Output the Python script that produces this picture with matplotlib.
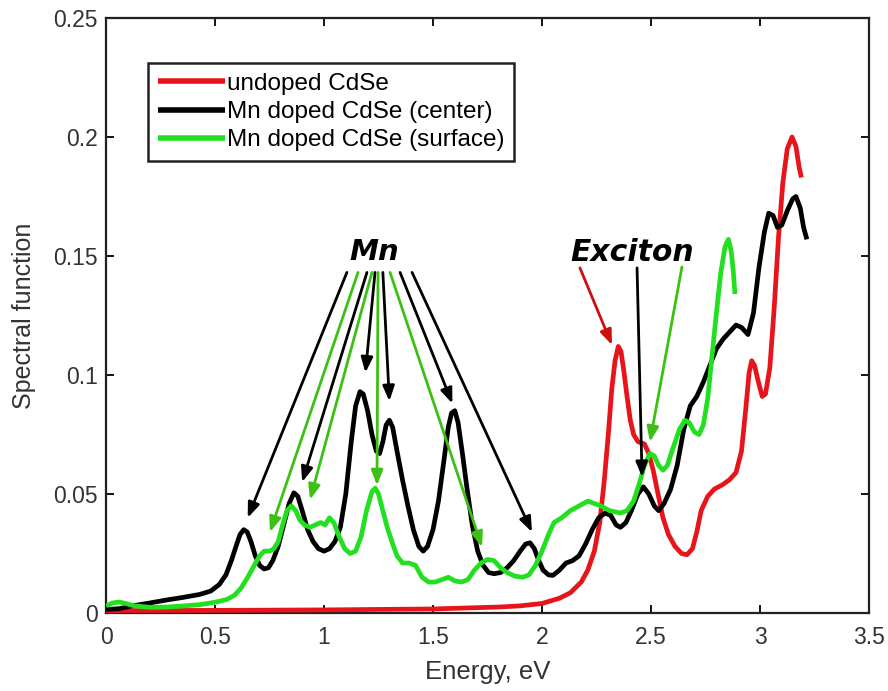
import matplotlib
matplotlib.use("Agg")
import matplotlib.pyplot as plt

# ---------------- data ----------------
red_x = [0, 0.5, 1.0, 1.5, 1.8, 1.9, 2.0, 2.08, 2.13, 2.18,
         2.21, 2.24, 2.265, 2.285, 2.305, 2.32, 2.335, 2.35, 2.362, 2.375,
         2.39, 2.405, 2.42, 2.44, 2.47, 2.49, 2.51, 2.53, 2.555, 2.58,
         2.61, 2.64, 2.665, 2.69, 2.71, 2.73, 2.76, 2.79, 2.83, 2.86,
         2.89, 2.915, 2.935, 2.95, 2.962, 2.975, 2.99, 3.01, 3.025, 3.045,
         3.065, 3.085, 3.105, 3.125, 3.147, 3.165, 3.18, 3.19]
red_y = [0.001, 0.0011, 0.0013, 0.0017, 0.0025, 0.003, 0.004, 0.0062, 0.0085, 0.013,
         0.018, 0.026, 0.038, 0.055, 0.076, 0.094, 0.106, 0.112, 0.110, 0.102,
         0.091, 0.081, 0.075, 0.072, 0.071, 0.067, 0.060, 0.051, 0.040, 0.033,
         0.028, 0.025, 0.0245, 0.027, 0.034, 0.043, 0.049, 0.052, 0.054, 0.056,
         0.059, 0.068, 0.086, 0.101, 0.106, 0.104, 0.098, 0.091, 0.092, 0.103,
         0.128, 0.158, 0.181, 0.195, 0.200, 0.196, 0.187, 0.183]

black_x = [0, 0.06, 0.12, 0.2, 0.28, 0.35, 0.43, 0.48, 0.52, 0.55,
           0.575, 0.6, 0.615, 0.632, 0.648, 0.665, 0.685, 0.705, 0.725, 0.745,
           0.765, 0.79, 0.815, 0.84, 0.862, 0.88, 0.9, 0.925, 0.95, 0.975,
           1.0, 1.025, 1.05, 1.075, 1.1, 1.125, 1.145, 1.165, 1.18, 1.2,
           1.22, 1.24, 1.255, 1.27, 1.285, 1.3, 1.315, 1.335, 1.36, 1.385,
           1.41, 1.435, 1.455, 1.475, 1.5, 1.525, 1.55, 1.57, 1.585, 1.6,
           1.615, 1.635, 1.655, 1.68, 1.705, 1.73, 1.755, 1.78, 1.81, 1.84,
           1.87, 1.9, 1.925, 1.945, 1.965, 1.985, 2.005, 2.03, 2.05, 2.08,
           2.11, 2.14, 2.17, 2.2, 2.23, 2.26, 2.29, 2.315, 2.34, 2.36,
           2.385, 2.41, 2.44, 2.465, 2.49, 2.515, 2.535, 2.56, 2.59, 2.62,
           2.65, 2.68, 2.71, 2.74, 2.77, 2.8, 2.83, 2.86, 2.89, 2.915,
           2.945, 2.97, 2.995, 3.02, 3.04, 3.06, 3.08, 3.1, 3.125, 3.15,
           3.165, 3.185, 3.2, 3.215]
black_y = [0.0015, 0.0018, 0.003, 0.0042, 0.0055, 0.0065, 0.0078, 0.0092, 0.012, 0.016,
           0.022, 0.029, 0.033, 0.035, 0.034, 0.030, 0.024, 0.020, 0.0185, 0.019,
           0.022, 0.028, 0.037, 0.046, 0.0505, 0.049, 0.043, 0.035, 0.030, 0.027,
           0.026, 0.027, 0.030, 0.036, 0.050, 0.072, 0.087, 0.093, 0.092, 0.085,
           0.075, 0.068, 0.067, 0.072, 0.079, 0.081, 0.078, 0.068, 0.056, 0.045,
           0.035, 0.028, 0.026, 0.028, 0.035, 0.047, 0.064, 0.078, 0.084, 0.085,
           0.080, 0.067, 0.053, 0.037, 0.026, 0.020, 0.017, 0.0165, 0.017, 0.019,
           0.022, 0.026, 0.029, 0.0295, 0.027, 0.022, 0.018, 0.016, 0.0158, 0.018,
           0.021, 0.022, 0.024, 0.029, 0.035, 0.040, 0.042, 0.041, 0.037, 0.036,
           0.038, 0.043, 0.050, 0.053, 0.050, 0.045, 0.043, 0.046, 0.052, 0.062,
           0.077, 0.087, 0.091, 0.097, 0.104, 0.111, 0.115, 0.118, 0.121, 0.120,
           0.117, 0.126, 0.145, 0.160, 0.168, 0.167, 0.162, 0.163, 0.169, 0.174,
           0.175, 0.170, 0.162, 0.157]

green_x = [0, 0.03, 0.06, 0.09, 0.13, 0.2, 0.28, 0.36, 0.43, 0.5,
           0.555, 0.59, 0.62, 0.65, 0.68, 0.705, 0.725, 0.75, 0.77, 0.79,
           0.81, 0.83, 0.85, 0.87, 0.89, 0.91, 0.935, 0.96, 0.985, 1.005,
           1.025, 1.045, 1.07, 1.095, 1.12, 1.145, 1.17, 1.195, 1.22, 1.235,
           1.25, 1.27, 1.29, 1.315, 1.335, 1.36, 1.39, 1.42, 1.45, 1.48,
           1.51, 1.54, 1.57, 1.6, 1.63, 1.66, 1.69, 1.72, 1.75, 1.78,
           1.81, 1.84, 1.875, 1.91, 1.94, 1.97, 2.0, 2.03, 2.055, 2.09,
           2.13, 2.17, 2.21, 2.24, 2.27, 2.31, 2.36, 2.39, 2.42, 2.445,
           2.47, 2.495, 2.515, 2.535, 2.555, 2.575, 2.6, 2.63, 2.655, 2.675,
           2.7, 2.72, 2.74, 2.76, 2.78, 2.8, 2.82, 2.84, 2.855, 2.868,
           2.878, 2.885]
green_y = [0.003, 0.0042, 0.0046, 0.004, 0.003, 0.0024, 0.0025, 0.003, 0.0035, 0.0045,
           0.0057, 0.0075, 0.0105, 0.015, 0.020, 0.024, 0.026, 0.026, 0.027, 0.030,
           0.037, 0.043, 0.045, 0.043, 0.039, 0.037, 0.036, 0.037, 0.038, 0.037,
           0.040, 0.038, 0.032, 0.027, 0.025, 0.026, 0.032, 0.043, 0.051, 0.0525,
           0.050, 0.043, 0.036, 0.029, 0.024, 0.021, 0.021, 0.020, 0.015, 0.013,
           0.013, 0.014, 0.015, 0.0135, 0.013, 0.014, 0.018, 0.021, 0.0225, 0.022,
           0.019, 0.017, 0.0155, 0.015, 0.016, 0.020, 0.026, 0.033, 0.038, 0.040,
           0.043, 0.045, 0.047, 0.046, 0.045, 0.043, 0.042, 0.043, 0.047, 0.054,
           0.062, 0.067, 0.066, 0.062, 0.060, 0.062, 0.069, 0.077, 0.081, 0.080,
           0.076, 0.075, 0.079, 0.090, 0.108, 0.126, 0.143, 0.154, 0.157, 0.152,
           0.143, 0.134]

series_labels = ["undoped CdSe", "Mn doped CdSe (center)", "Mn doped CdSe (surface)"]
x_ticks = [0, 0.5, 1, 1.5, 2, 2.5, 3, 3.5]
x_tick_labels = ["0", "0.5", "1", "1.5", "2", "2.5", "3", "3.5"]
y_ticks = [0, 0.05, 0.1, 0.15, 0.2, 0.25]
y_tick_labels = ["0", "0.05", "0.1", "0.15", "0.2", "0.25"]

# annotation arrows: (start, target) in data coords
mn_label = "Mn"
mn_black_targets = [(0.65, 0.040), (0.90, 0.055), (1.19, 0.101), (1.30, 0.089), (1.589, 0.088), (1.954, 0.034)]
mn_black_starts = [(1.105, 0.1431), (1.197, 0.1431), (1.234, 0.1431), (1.27, 0.1431), (1.349, 0.1431), (1.404, 0.1431)]
mn_green_targets = [(0.752, 0.0340), (0.936, 0.0476), (1.243, 0.0536), (1.725, 0.0277)]
mn_green_starts = [(1.156, 0.1431), (1.22, 0.1431), (1.248, 0.1431), (1.303, 0.1431)]
exc_label = "Exciton"
exc_red = ((2.174, 0.1450), (2.321, 0.1126))
exc_black = ((2.436, 0.1450), (2.459, 0.0571))
exc_green = ((2.642, 0.1454), (2.495, 0.0719))

assert len(red_x) == len(red_y) and len(black_x) == len(black_y) and len(green_x) == len(green_y)

# ---------------- figure ----------------
plt.rcParams['font.family'] = ['Liberation Sans', 'DejaVu Sans']
fig = plt.figure(figsize=(8.88, 6.91), dpi=100)
ax = fig.add_axes([106/888, 1 - 613/691, 763/888, 595/691])

red_c = '#e8141b'
green_c = '#22e01f'
lw = 3.4
ax.plot(red_x, red_y, color=red_c, lw=lw, label=series_labels[0], zorder=3,
        solid_capstyle='butt', solid_joinstyle='round')
ax.plot(black_x, black_y, color='black', lw=lw, label=series_labels[1], zorder=3,
        solid_capstyle='butt', solid_joinstyle='round')
ax.plot(green_x, green_y, color=green_c, lw=lw, label=series_labels[2], zorder=3,
        solid_capstyle='butt', solid_joinstyle='round')

ax.set_xlim(0, 3.5)
ax.set_ylim(0, 0.25)
ax.set_xticks(x_ticks)
ax.set_xticklabels(x_tick_labels)
ax.set_yticks(y_ticks)
ax.set_yticklabels(y_tick_labels)
ax.tick_params(direction='in', length=6, width=1.3, top=True, right=True,
               labelsize=16.5, labelcolor='#333333')
ax.tick_params(axis='x', pad=9)
ax.tick_params(axis='y', pad=6)
for s in ax.spines.values():
    s.set_linewidth(1.6)
    s.set_color('#222222')

ax.set_xlabel("Energy, eV", fontsize=18.5, color='#333333', labelpad=8)
ax.set_ylabel("Spectral function", fontsize=18, color='#333333', labelpad=12)

arrow_kw = dict(arrowstyle='-|>,head_length=0.9,head_width=0.35', lw=2.0, shrinkA=0, shrinkB=0)
green_arrow = '#3cc014'
for s, t in zip(mn_black_starts, mn_black_targets):
    ax.annotate('', xy=t, xytext=s, arrowprops=dict(color='black', **arrow_kw), zorder=5)
for s, t in zip(mn_green_starts, mn_green_targets):
    ax.annotate('', xy=t, xytext=s, arrowprops=dict(color=green_arrow, **arrow_kw), zorder=5)
ax.annotate('', xy=exc_red[1], xytext=exc_red[0], arrowprops=dict(color='#cc1010', **arrow_kw), zorder=5)
ax.annotate('', xy=exc_black[1], xytext=exc_black[0], arrowprops=dict(color='black', **arrow_kw), zorder=5)
ax.annotate('', xy=exc_green[1], xytext=exc_green[0], arrowprops=dict(color=green_arrow, **arrow_kw), zorder=5)

ax.text(1.229, 0.1515, mn_label, fontsize=21, fontweight='bold', fontstyle='italic',
        family='DejaVu Sans', ha='center', va='center')
ax.text(2.413, 0.1515, exc_label, fontsize=21.5, fontweight='bold', fontstyle='italic',
        family='DejaVu Sans', ha='center', va='center')

leg = ax.legend(loc='upper left', bbox_to_anchor=(0.055, 0.924), borderaxespad=0,
                fontsize=17.5, handlelength=2.75, handletextpad=0.1, labelspacing=0.25,
                borderpad=0.4, fancybox=False, framealpha=1, edgecolor='#222222')
leg.get_frame().set_linewidth(1.8)
for line in leg.get_lines():
    line.set_linewidth(4)

fig.savefig("out.png", dpi=100)
